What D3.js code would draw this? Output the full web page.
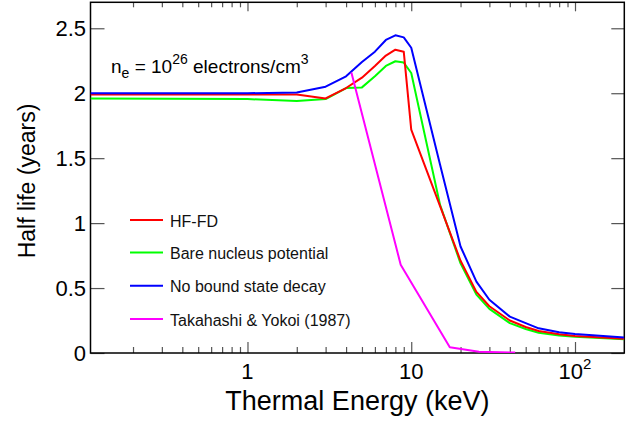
<!DOCTYPE html>
<html>
<head>
<meta charset="utf-8">
<script src="https://cdn.jsdelivr.net/npm/d3@7"></script>
<style>
body{margin:0;background:#fff;}
svg{font-family:"Liberation Sans",Arial,sans-serif;}
.line{fill:none;stroke-width:2;stroke-linejoin:round;}
.ax path{display:none;}
.ax line{stroke:#555;stroke-width:1.2;}
</style>
</head>
<body>
<svg id="chart" width="644" height="421"></svg>
<script>
// energies in keV
const hfE   =[0.11,1,2,3,4,5,6,7,8,9,10,15,20,25,30,40,50,60,80,100,200];
const hfFD  =[1.99,1.99,1.99,1.96,2.04,2.12,2.21,2.29,2.335,2.32,1.72,1.13,0.71,0.47,0.36,0.25,0.20,0.17,0.145,0.13,0.11];
const bare  =[1.96,1.955,1.94,1.955,2.04,2.045,2.13,2.21,2.246,2.236,2.156,1.14,0.69,0.45,0.34,0.23,0.185,0.156,0.135,0.125,0.105];
const noBound=[2.0,2.0,2.005,2.05,2.13,2.24,2.32,2.41,2.446,2.43,2.35,1.45,0.82,0.55,0.41,0.28,0.23,0.19,0.16,0.146,0.12];
const tyE   =[4.31,8.62,17.2,25.9,43.1];
const takYok=[2.16,0.68,0.044,0.01,0.003];

const seriesNames=["HF-FD","Bare nucleus potential","No bound state decay","Takahashi & Yokoi (1987)"];
const seriesColors=["#ff0000","#00ff00","#0000ff","#ff00ff"];

const yTicks=[0,0.5,1,1.5,2,2.5];
const xMajor=[1,10,100];
const xMajorLabels=["1","10","10|2"];

let svg=d3.select("#chart");
let margin={top:2.3,right:19.7,bottom:68,left:90.5},
  width=644,height=421;

let xScale=d3.scaleLog().domain([0.11,200]).range([margin.left,width-margin.right]);
let yScale=d3.scaleLinear().domain([0,2.7]).range([height-margin.bottom,margin.top]);

let xMinor=[];
[0.1,1,10,100].forEach(function(dec){
  for(let k=2;k<=9;k++){
    let v=dec*k;
    if(v>0.11&&v<200)xMinor.push(v);
  }
});

svg.append("clipPath").attr("id","clip")
  .append("rect")
  .attr("x",margin.left).attr("y",margin.top)
  .attr("width",width-margin.right-margin.left)
  .attr("height",height-margin.bottom-margin.top);

let x0=margin.left,x1=width-margin.right,y0=height-margin.bottom,y1=margin.top;

// ticks
svg.append("g").attr("class","ax").attr("transform","translate(0,"+y0+")")
  .call(d3.axisBottom(xScale).tickValues(xMinor).tickSize(-6).tickFormat(""));
svg.append("g").attr("class","ax").attr("transform","translate(0,"+y0+")")
  .call(d3.axisBottom(xScale).tickValues(xMajor).tickSize(-11).tickFormat(""));
svg.append("g").attr("class","ax").attr("transform","translate(0,"+y1+")")
  .call(d3.axisTop(xScale).tickValues(xMinor).tickSize(-5).tickFormat(""));
svg.append("g").attr("class","ax").attr("transform","translate(0,"+y1+")")
  .call(d3.axisTop(xScale).tickValues(xMajor).tickSize(-9).tickFormat(""));
svg.append("g").attr("class","ax").attr("transform","translate("+x0+",0)")
  .call(d3.axisLeft(yScale).tickValues(yTicks).tickSize(-14).tickFormat(""));
svg.append("g").attr("class","ax").attr("transform","translate("+x1+",0)")
  .call(d3.axisRight(yScale).tickValues(yTicks).tickSize(-13).tickFormat(""));

// tick labels
svg.append("g").selectAll()
  .data(yTicks)
  .enter().append("text")
  .attr("x",86)
  .attr("y",function(d){return yScale(d)+8;})
  .attr("text-anchor","end")
  .style("font-size","22px")
  .text(function(d){return d3.format("")(d);});

let xl=svg.append("g").selectAll()
  .data(xMajor)
  .enter().append("text")
  .attr("x",function(d){return xScale(d);})
  .attr("y",379)
  .attr("text-anchor","middle")
  .style("font-size","22px");
xl.each(function(d,i){
  let parts=xMajorLabels[i].split("|");
  let t=d3.select(this);
  t.append("tspan").text(parts[0]);
  if(parts[1])t.append("tspan").attr("dy",-10).style("font-size","15px").text(parts[1]);
});

// frame
svg.append("rect")
  .attr("x",x0).attr("y",y1)
  .attr("width",x1-x0).attr("height",y0-y1)
  .attr("fill","none").attr("stroke","#000").attr("stroke-width",1.5);

// lines
let line=d3.line()
  .x(function(d){return xScale(d[0]);})
  .y(function(d){return yScale(d[1]);});

let seriesData=[
  d3.zip(hfE,hfFD),
  d3.zip(hfE,bare),
  d3.zip(hfE,noBound),
  d3.zip(tyE,takYok)
];
let plot=svg.append("g").attr("clip-path","url(#clip)");
[1,0,2,3].forEach(function(i){
  plot.append("path")
    .datum(seriesData[i])
    .attr("class","line")
    .attr("stroke",seriesColors[i])
    .attr("d",line);
});

// legend
let legendY=[220,252.5,285.8,319];
svg.append("g").selectAll()
  .data(seriesNames)
  .enter().append("line")
  .attr("x1",130).attr("x2",163)
  .attr("y1",function(d,i){return legendY[i];})
  .attr("y2",function(d,i){return legendY[i];})
  .attr("stroke",function(d,i){return seriesColors[i];})
  .attr("stroke-width",2);
svg.append("g").selectAll()
  .data(seriesNames)
  .enter().append("text")
  .attr("x",170)
  .attr("y",function(d,i){return legendY[i]+6.5;})
  .style("font-size","16px")
  .attr("fill","#111")
  .text(function(d){return d;});

// annotation
let ann=svg.append("text").attr("x",111).attr("y",73).style("font-size","19px");
ann.append("tspan").text("n");
ann.append("tspan").attr("dy",5).style("font-size","14px").text("e");
ann.append("tspan").attr("dy",-5).text(" = 10");
ann.append("tspan").attr("dy",-9).style("font-size","14px").text("26");
ann.append("tspan").attr("dy",9).text(" electrons/cm");
ann.append("tspan").attr("dy",-9).style("font-size","14px").text("3");

// axis titles
svg.append("text")
  .attr("x",(x0+x1)/2).attr("y",410)
  .attr("text-anchor","middle")
  .style("font-size","27px")
  .text("Thermal Energy (keV)");
svg.append("text")
  .attr("transform","translate(35,"+181+") rotate(-90)")
  .attr("text-anchor","middle")
  .style("font-size","23px")
  .text("Half life (years)");
</script>
</body>
</html>
